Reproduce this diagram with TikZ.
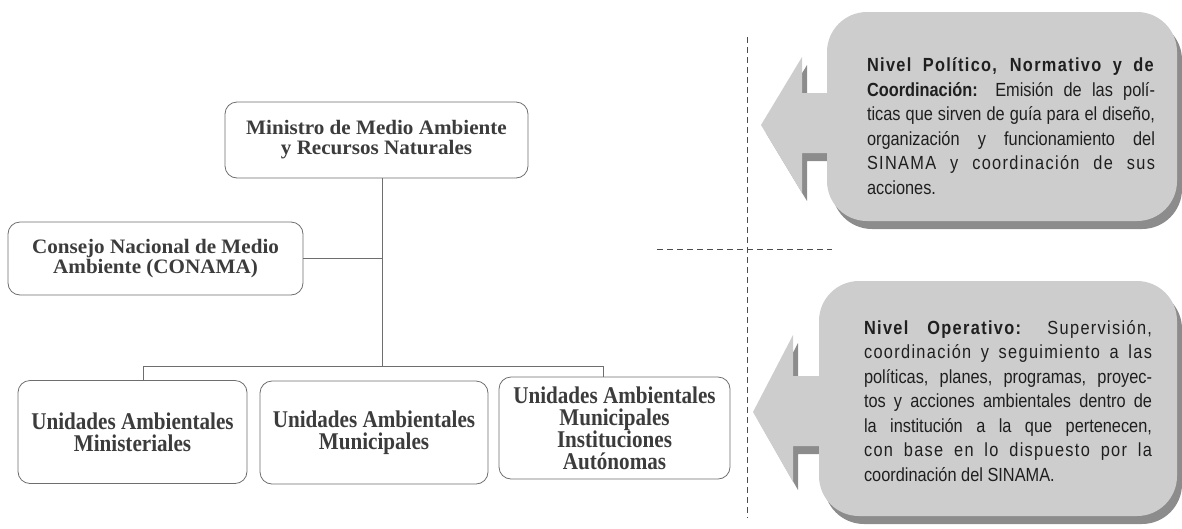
\documentclass[tikz,border=0pt]{standalone}
\usepackage{fontspec}
\setmainfont{Liberation Serif}
\newfontfamily\titlefont[FakeStretch=1.03]{Liberation Serif}
\newfontfamily\unitfont[FakeStretch=0.88]{Liberation Serif}
\newfontfamily\notefont[FakeStretch=0.86]{Liberation Sans}
\newfontfamily\notespacedfont[FakeStretch=0.86,LetterSpace=7]{Liberation Sans}
\usepackage{xcolor}
\definecolor{calloutgray}{HTML}{CDCDCD}
\definecolor{shadowgray}{HTML}{8C8C8C}
\definecolor{linegray}{HTML}{6E6E6E}
\definecolor{textgray}{HTML}{3C3C3C}

\newcommand{\nb}[1]{{\notespacedfont\bfseries #1}}
\newcommand{\ls}[1]{{\notespacedfont #1}}

\begin{document}
\begin{tikzpicture}
      [x=1pt, y=-1pt,
       box/.style={draw=linegray, line width=0.8pt, rounded corners=12pt, fill=white,
                   align=center, text=textgray, inner sep=0pt},
       title/.style={box, font=\titlefont\bfseries\fontsize{20.5}{20}\selectfont},
       unit/.style={box, minimum height=103pt, font=\unitfont\bfseries\fontsize{24}{22}\selectfont},
       note/.style={text width=288pt, align=justify, inner sep=0pt, text=black!88,
                    font=\notefont\fontsize{19}{24.5}\selectfont},
       guide/.style={draw=black!70, line width=0.8pt, dash pattern=on 6pt off 4pt}]
      \useasboundingbox (0,0) rectangle (1182,528);

      % org chart
      \node[title, minimum width=303pt, minimum height=76pt](1) at (376.5, 140)
            {Ministro de Medio Ambiente\\y Recursos Naturales};
      \node[title, minimum width=295pt, minimum height=73pt](2) at (155.5, 258.5)
            {Consejo Nacional de Medio\\Ambiente (CONAMA)};
      \node[unit, minimum width=229pt](3) at (132.5, 432)
            {Unidades Ambientales\\Ministeriales};
      \node[unit, minimum width=228pt](4) at (374, 432.5)
            {Unidades Ambientales\\Municipales};
      \node[unit, minimum width=231pt, minimum height=102pt](5) at (614.5, 428)
            {Unidades Ambientales\\Municipales\\Instituciones\\Autónomas};
      \coordinate(m) at (382, 366);
      \coordinate(a) at (143, 366);
      \coordinate(b) at (603, 366);
      \draw[linegray, line width=0.9pt](m |- 1.south) -- (m);
      \draw[linegray, line width=0.9pt](2.east) -- (2.east -| m);
      \draw[linegray, line width=0.9pt](a) -- (b);
      \draw[linegray, line width=0.9pt](a) -- (a |- 3.north);
      \draw[linegray, line width=0.9pt](b) -- (b |- 5.north);

      % level separators
      \coordinate(v1) at (747, 37);
      \coordinate(v2) at (747, 518);
      \coordinate(h1) at (657, 249);
      \coordinate(h2) at (832, 249);
      \draw[guide](v1) -- (v2);
      \draw[guide](h1) -- (h2);

      % callout shapes
      \fill[shadowgray, xshift=5pt, yshift=-8pt]
            (850, 93) -- (802, 93) -- (802, 57) -- (761, 125) -- (802, 193) -- (802, 153) -- (850, 153) -- cycle;
      \fill[shadowgray, xshift=5pt, yshift=-8pt, rounded corners=40pt](827, 12) rectangle (1177, 221);
      \fill[calloutgray]
            (850, 93) -- (802, 93) -- (802, 57) -- (761, 125) -- (802, 193) -- (802, 153) -- (850, 153) -- cycle;
      \fill[calloutgray, rounded corners=40pt](827, 12) rectangle (1177, 221);
      \fill[shadowgray, xshift=5pt, yshift=-8pt]
            (840, 376) -- (793, 376) -- (793, 335) -- (753, 412) -- (793, 482) -- (793, 446) -- (840, 446) -- cycle;
      \fill[shadowgray, xshift=5pt, yshift=-8pt, rounded corners=40pt](819, 281) rectangle (1177, 516);
      \fill[calloutgray]
            (840, 376) -- (793, 376) -- (793, 335) -- (753, 412) -- (793, 482) -- (793, 446) -- (840, 446) -- cycle;
      \fill[calloutgray, rounded corners=40pt](819, 281) rectangle (1177, 516);

      % callout texts
      \node[note](6) at (1011, 126)
            {\tolerance=9999\hyphenpenalty=10000
             \nb{Nivel Político, Normativo y de}\linebreak
             \textbf{Coordinación:} Emisión de las polí-\linebreak
             ticas que sirven de guía para el diseño,\linebreak
             organización y funcionamiento del\linebreak
             \ls{SINAMA y coordinación de sus}\linebreak
             acciones.};
      \node[note](7) at (1008, 401)
            {\tolerance=9999\hyphenpenalty=10000
             \nb{Nivel Operativo:} \ls{Supervisión,}\linebreak
             \ls{coordinación y seguimiento a las}\linebreak
             políticas, planes, programas, proyec-\linebreak
             tos y acciones ambientales dentro de\linebreak
             la institución a la que pertenecen,\linebreak
             \ls{con base en lo dispuesto por la}\linebreak
             coordinación del SINAMA.};
  \end{tikzpicture}
\end{document}
